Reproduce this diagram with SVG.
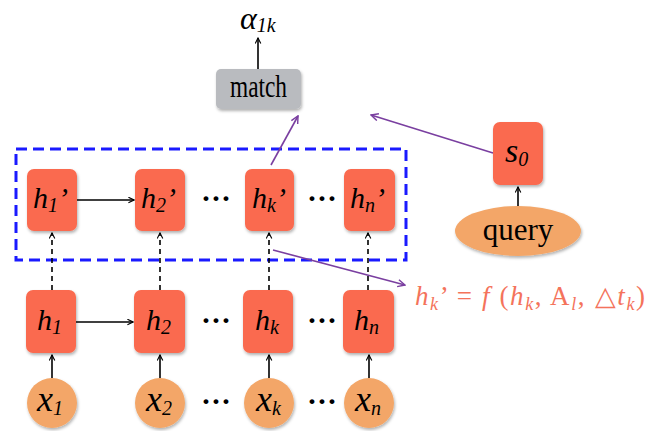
<svg xmlns="http://www.w3.org/2000/svg" width="668" height="431" viewBox="0 0 668 431">
<style>
.box{fill:#fa6a4f}
.circ{fill:#f3a667}
.gray{fill:#b9bbbf}
.v{font-family:"Liberation Serif",serif;font-style:italic;font-size:30px;fill:#000}
.xv{font-size:36px}
.sub{font-size:20px}
.t{font-family:"Liberation Serif",serif;font-size:26px;fill:#000}
.dots{font-family:"Liberation Serif",serif;font-size:30px;font-weight:bold;fill:#000}
.solid{stroke:#000;stroke-width:1.6;fill:none;marker-end:url(#ab)}
.dash{stroke:#000;stroke-width:1.6;fill:none;stroke-dasharray:5,4;marker-end:url(#ab)}
.pur{stroke:#7a3fa0;stroke-width:1.6;fill:none;marker-end:url(#ap)}
.f{font-family:"Liberation Serif",serif;font-size:27px;fill:#f4735b}
</style>
<defs>
<marker id="ab" viewBox="0 0 10 10" refX="9" refY="5" markerWidth="7" markerHeight="7" orient="auto" markerUnits="userSpaceOnUse"><path d="M1,1 L9,5 L1,9" fill="none" stroke="#000" stroke-width="1.6"/></marker>
<marker id="ap" viewBox="0 0 10 10" refX="9" refY="5" markerWidth="9" markerHeight="9" orient="auto" markerUnits="userSpaceOnUse"><path d="M1,1 L9,5 L1,9" fill="none" stroke="#7a3fa0" stroke-width="1.6"/></marker>
<filter id="sh" x="-20%" y="-20%" width="140%" height="140%"><feDropShadow dx="1" dy="2" stdDeviation="1.5" flood-color="#000" flood-opacity="0.3"/></filter>
</defs>
<rect x="16" y="149" width="390" height="111" fill="none" stroke="#1a1aff" stroke-width="3" stroke-dasharray="11,6"/>
<g id="connectors">
<line class="solid" x1="258" y1="69" x2="258" y2="38"/>
<line class="solid" x1="77" y1="200" x2="134" y2="200"/>
<line class="solid" x1="76" y1="322" x2="133" y2="322"/>
<line class="dash" x1="52" y1="290" x2="52" y2="233"/>
<line class="dash" x1="160" y1="290" x2="160" y2="233"/>
<line class="dash" x1="269" y1="290" x2="269" y2="233"/>
<line class="dash" x1="368" y1="290" x2="368" y2="233"/>
<line class="solid" x1="52" y1="378" x2="52" y2="355"/>
<line class="solid" x1="160" y1="378" x2="160" y2="355"/>
<line class="solid" x1="269" y1="378" x2="269" y2="355"/>
<line class="solid" x1="369" y1="378" x2="369" y2="355"/>
<line class="solid" x1="518" y1="206" x2="518" y2="187"/>
<line class="pur" x1="271" y1="165" x2="298" y2="116"/>
<line class="pur" x1="493" y1="153" x2="371" y2="115"/>
<line class="pur" x1="273" y1="250" x2="405" y2="285"/>
</g>
<g id="alpha"><text x="240" y="29" class="v" style="font-size:32px">α<tspan style="font-size:20px" dy="3">1k</tspan></text></g>
<g id="match"><rect class="gray" x="216" y="69" width="85" height="40" rx="5" filter="url(#sh)"/><text x="230" y="97" class="t" style="font-size:31px" textLength="57" lengthAdjust="spacingAndGlyphs">match</text></g>
<g id="s0"><rect class="box" x="493" y="122" width="50" height="63" rx="7" filter="url(#sh)"/><text x="505" y="162" class="v" style="font-size:34px">s<tspan class="sub" dy="4">0</tspan></text></g>
<g id="query"><ellipse class="circ" cx="518" cy="231" rx="63" ry="25" filter="url(#sh)"/><text x="518" y="240" class="t" text-anchor="middle" style="font-size:31px">query</text></g>
<g id="h1p"><rect class="box" x="27" y="169" width="50" height="62" rx="7" filter="url(#sh)"/><text x="33" y="208" class="v">h<tspan class="sub" dy="4">1</tspan><tspan dy="-4">’</tspan></text></g>
<g id="h2p"><rect class="box" x="135" y="169" width="50" height="62" rx="7" filter="url(#sh)"/><text x="141" y="208" class="v">h<tspan class="sub" dy="4">2</tspan><tspan dy="-4">’</tspan></text></g>
<g id="hkp"><rect class="box" x="245" y="169" width="49" height="62" rx="7" filter="url(#sh)"/><text x="252" y="208" class="v">h<tspan class="sub" dy="4">k</tspan><tspan dy="-4">’</tspan></text></g>
<g id="hnp"><rect class="box" x="344" y="169" width="51" height="62" rx="7" filter="url(#sh)"/><text x="350" y="208" class="v">h<tspan class="sub" dy="4">n</tspan><tspan dy="-4">’</tspan></text></g>
<g id="h1"><rect class="box" x="26" y="290" width="50" height="63" rx="7" filter="url(#sh)"/><text x="37" y="330" class="v">h<tspan class="sub" dy="4">1</tspan></text></g>
<g id="h2"><rect class="box" x="134" y="290" width="51" height="63" rx="7" filter="url(#sh)"/><text x="146" y="330" class="v">h<tspan class="sub" dy="4">2</tspan></text></g>
<g id="hk"><rect class="box" x="243" y="290" width="50" height="63" rx="7" filter="url(#sh)"/><text x="255" y="330" class="v">h<tspan class="sub" dy="4">k</tspan></text></g>
<g id="hn"><rect class="box" x="343" y="290" width="51" height="63" rx="7" filter="url(#sh)"/><text x="354" y="330" class="v">h<tspan class="sub" dy="4">n</tspan></text></g>
<g id="x1"><circle class="circ" cx="52" cy="403" r="25" filter="url(#sh)"/><text x="37" y="411" class="v xv">x<tspan class="sub" dy="4">1</tspan></text></g>
<g id="x2"><circle class="circ" cx="160" cy="403" r="25" filter="url(#sh)"/><text x="146" y="411" class="v xv">x<tspan class="sub" dy="4">2</tspan></text></g>
<g id="xk"><circle class="circ" cx="269" cy="403" r="25" filter="url(#sh)"/><text x="256" y="411" class="v xv">x<tspan class="sub" dy="4">k</tspan></text></g>
<g id="xn"><circle class="circ" cx="369" cy="403" r="25" filter="url(#sh)"/><text x="355" y="411" class="v xv">x<tspan class="sub" dy="4">n</tspan></text></g>
<text class="dots" x="216" y="208" text-anchor="middle">···</text>
<text class="dots" x="322" y="208" text-anchor="middle">···</text>
<text class="dots" x="216" y="330" text-anchor="middle">···</text>
<text class="dots" x="322" y="330" text-anchor="middle">···</text>
<text class="dots" x="216" y="411" text-anchor="middle">···</text>
<text class="dots" x="322" y="411" text-anchor="middle">···</text>
<g id="formula"><text class="f" x="415" y="305" textLength="230" lengthAdjust="spacing"><tspan font-style="italic">h</tspan><tspan font-style="italic" font-size="18" dy="5">k</tspan><tspan dy="-5">’ =</tspan><tspan font-style="italic"> f </tspan>(<tspan font-style="italic">h</tspan><tspan font-style="italic" font-size="18" dy="5">k</tspan><tspan dy="-5">, A</tspan><tspan font-style="italic" font-size="18" dy="5">l</tspan><tspan dy="-5">, △</tspan><tspan font-style="italic">t</tspan><tspan font-style="italic" font-size="18" dy="5">k</tspan><tspan dy="-5">)</tspan></text></g>
</svg>
